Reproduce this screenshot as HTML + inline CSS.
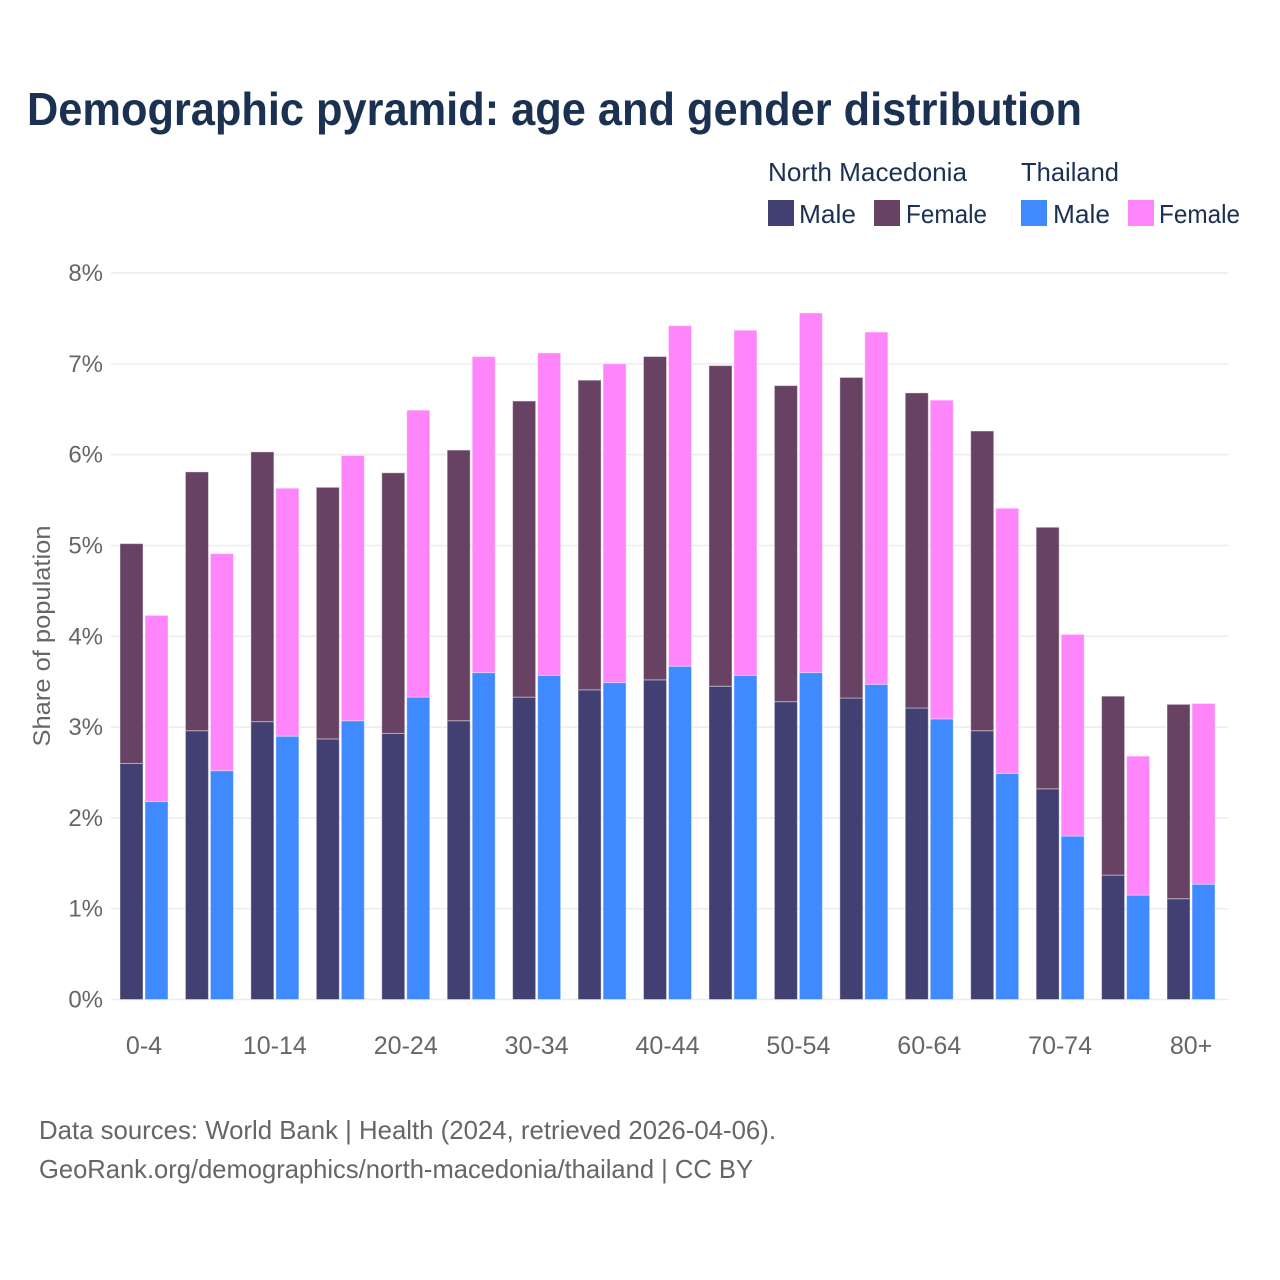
<!DOCTYPE html>
<html lang="en">
<head>
<meta charset="utf-8">
<title>Demographic pyramid</title>
<style>
html,body{margin:0;padding:0;background:#fff;}
svg{display:block;font-family:"Liberation Sans",sans-serif;}
</style>
</head>
<body>
<svg id="chart" xmlns="http://www.w3.org/2000/svg" width="1280" height="1280" viewBox="0 0 1280 1280">
<rect width="1280" height="1280" fill="#fff"/>
<text x="27" y="125" font-size="46" font-weight="700" fill="#1a3152" textLength="1055" lengthAdjust="spacingAndGlyphs">Demographic pyramid: age and gender distribution</text>
<g id="grid"></g>
<g id="bars"></g>
<g id="yticks"></g>
<g id="xticks"></g>
<text transform="translate(50,636) rotate(-90)" text-anchor="middle" font-size="24" fill="#666" textLength="221" lengthAdjust="spacingAndGlyphs">Share of population</text>
<g font-size="26" fill="#1a3152">
<text x="768" y="181" textLength="199" lengthAdjust="spacingAndGlyphs">North Macedonia</text>
<text x="1021" y="181" textLength="98" lengthAdjust="spacingAndGlyphs">Thailand</text>
<g>
<rect x="768" y="200" width="26" height="26" fill="#424072"/>
<text x="799" y="223" textLength="57" lengthAdjust="spacingAndGlyphs">Male</text>
</g>
<g>
<rect x="874" y="200" width="26" height="26" fill="#674263"/>
<text x="906" y="223" textLength="81" lengthAdjust="spacingAndGlyphs">Female</text>
</g>
<g>
<rect x="1021" y="200" width="26" height="26" fill="#408aff"/>
<text x="1053" y="223" textLength="57" lengthAdjust="spacingAndGlyphs">Male</text>
</g>
<g>
<rect x="1128" y="200" width="26" height="26" fill="#ff85fa"/>
<text x="1159" y="223" textLength="81" lengthAdjust="spacingAndGlyphs">Female</text>
</g>
</g>
<text x="39" y="1139" font-size="26" fill="#666" textLength="737" lengthAdjust="spacingAndGlyphs">Data sources: World Bank | Health (2024, retrieved 2026-04-06).</text>
<text x="39" y="1178" font-size="26" fill="#666" textLength="714" lengthAdjust="spacingAndGlyphs">GeoRank.org/demographics/north-macedonia/thailand | CC BY</text>
</svg>
<script>
const ageGroups = ["0-4","5-9","10-14","15-19","20-24","25-29","30-34","35-39","40-44","45-49","50-54","55-59","60-64","65-69","70-74","75-79","80+"];
const axisLabels = ["0-4","","10-14","","20-24","","30-34","","40-44","","50-54","","60-64","","70-74","","80+"];
const yTicks = [0,1,2,3,4,5,6,7,8];
const northMacedoniaMale = [2.60,2.96,3.06,2.87,2.93,3.07,3.33,3.41,3.52,3.45,3.28,3.32,3.21,2.96,2.32,1.37,1.11];
const northMacedoniaFemale = [2.42,2.85,2.97,2.77,2.87,2.98,3.26,3.41,3.56,3.53,3.48,3.53,3.47,3.30,2.88,1.97,2.14];
const thailandMale = [2.18,2.52,2.90,3.07,3.33,3.60,3.57,3.49,3.67,3.57,3.60,3.47,3.09,2.49,1.80,1.15,1.27];
const thailandFemale = [2.05,2.39,2.73,2.92,3.16,3.48,3.55,3.51,3.75,3.80,3.96,3.88,3.51,2.92,2.22,1.53,1.99];

const NS = "http://www.w3.org/2000/svg";
const xCenter = i => 144 + i * 65.44;
const yScale = v => 999.5 - v * 90.81;

function addRect(parent, x, v0, v1, fill, name) {
  const r = document.createElementNS(NS, "rect");
  r.setAttribute("x", x);
  r.setAttribute("y", yScale(v1));
  r.setAttribute("width", 23);
  r.setAttribute("height", yScale(v0) - yScale(v1));
  r.setAttribute("fill", fill);
  r.setAttribute("stroke", "#fff");
  r.setAttribute("stroke-opacity", "0.4");
  r.setAttribute("stroke-width", "1");
  
  
  parent.appendChild(r);
}

const grid = document.getElementById("grid");
const yt = document.getElementById("yticks");
yTicks.forEach(t => {
  const l = document.createElementNS(NS, "line");
  l.setAttribute("x1", 111);
  l.setAttribute("x2", 1228);
  l.setAttribute("y1", yScale(t));
  l.setAttribute("y2", yScale(t));
  l.setAttribute("stroke", "#ececec");
  l.setAttribute("stroke-width", "1.5");
  
  
  grid.appendChild(l);
  const s = document.createElementNS(NS, "text");
  s.setAttribute("x", 103);
  s.setAttribute("y", yScale(t) + 8);
  s.setAttribute("text-anchor", "end");
  s.setAttribute("font-size", "24");
  s.setAttribute("fill", "#666");
  
  
  s.textContent = t + "%";
  yt.appendChild(s);
});

const bars = document.getElementById("bars");
ageGroups.forEach((g, i) => {
  const c = xCenter(i);
  addRect(bars, c - 24, 0, northMacedoniaMale[i], "#424072", "bar-north-macedonia-male-" + g);
  addRect(bars, c - 24, northMacedoniaMale[i], northMacedoniaMale[i] + northMacedoniaFemale[i], "#674263", "bar-north-macedonia-female-" + g);
  addRect(bars, c + 1, 0, thailandMale[i], "#408aff", "bar-thailand-male-" + g);
  addRect(bars, c + 1, thailandMale[i], thailandMale[i] + thailandFemale[i], "#ff85fa", "bar-thailand-female-" + g);
});

const xt = document.getElementById("xticks");
axisLabels.forEach((lab, i) => {
  if (!lab) return;
  const s = document.createElementNS(NS, "text");
  s.setAttribute("x", xCenter(i));
  s.setAttribute("y", 1054);
  s.setAttribute("text-anchor", "middle");
  s.setAttribute("font-size", "25");
  s.setAttribute("fill", "#666");
  
  
  s.textContent = lab;
  xt.appendChild(s);
});
</script>
</body>
</html>
